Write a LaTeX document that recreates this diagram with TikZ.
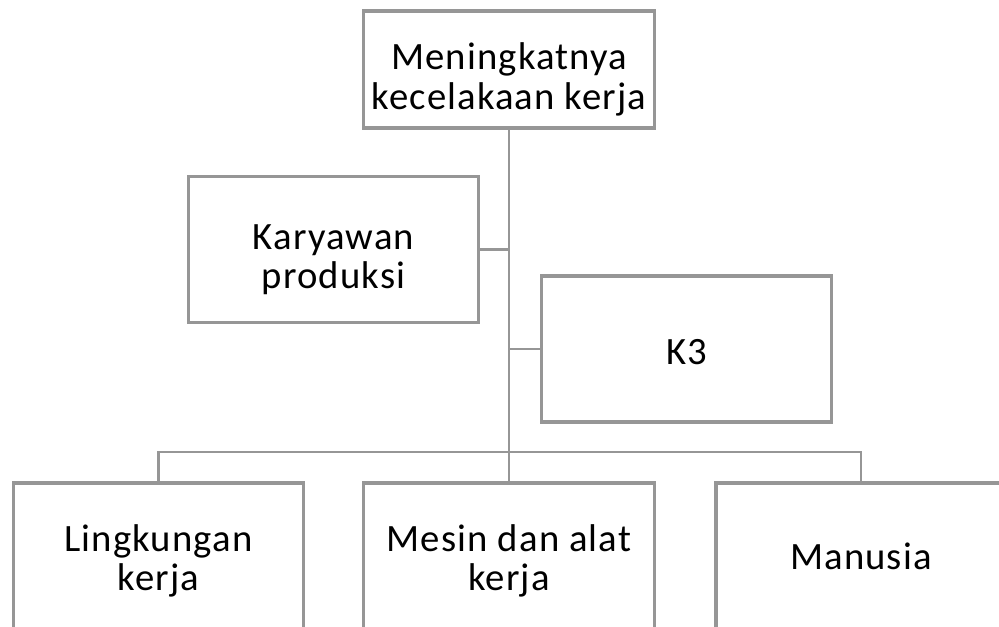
\documentclass[tikz,border=0pt]{standalone}
\usepackage{fontspec}
\setmainfont{Carlito}[LetterSpace=3]
\usepackage{xcolor}
\usetikzlibrary{positioning, calc}
\definecolor{boxline}{HTML}{969696}
% strut on the first line, pushes the text down by #1
\newcommand{\lowerby}[1]{\rule{0pt}{\dimexpr\fontcharht\font`k+#1*2\relax}}

\begin{document}
\begin{tikzpicture}[
    x=0.01cm, y=-0.01cm,
    box/.style={draw=boxline, line width=0.9pt, fill=white, minimum width=2.9cm, minimum height=#1, align=center, inner sep=2pt, font=\fontsize{11}{11.2}\selectfont},
    box/.default=1.46cm,
    link/.style={draw=boxline, line width=0.6pt},
]
    \useasboundingbox (0,0) rectangle (999,627);
    \clip (0,0) rectangle (999,627);

    % Top problem
    \node[box=1.17cm] (cause) at (509, 69.5) {\lowerby{2.8pt}Meningkatnya\\kecelakaan kerja};

    % Side boxes
    \node[box] (worker) at (333.5, 249.5) {\lowerby{2.6pt}Karyawan\\produksi};
    \node[box] (kthree) at (686.5, 349) {\lowerby{0.5pt}K3};

    % Factors
    \node[box] (env) at (158.5, 556) {\lowerby{1.4pt}Lingkungan\\kerja};
    \node[box] (machine) at (509, 556) {\lowerby{1.4pt}Mesin dan alat\\kerja};
    \node[box] (human) at (861, 556) {Manusia};

    % Connectors
    \coordinate (bus) at (509, 452);
    \draw[link] (cause.south) -- (machine.north);
    \draw[link] (worker.east) -- (worker.east -| cause.south);
    \draw[link] (kthree.west) -- (kthree.west -| cause.south);
    \draw[link] (env.north) |- (bus) -| (human.north);
\end{tikzpicture}
\end{document}
